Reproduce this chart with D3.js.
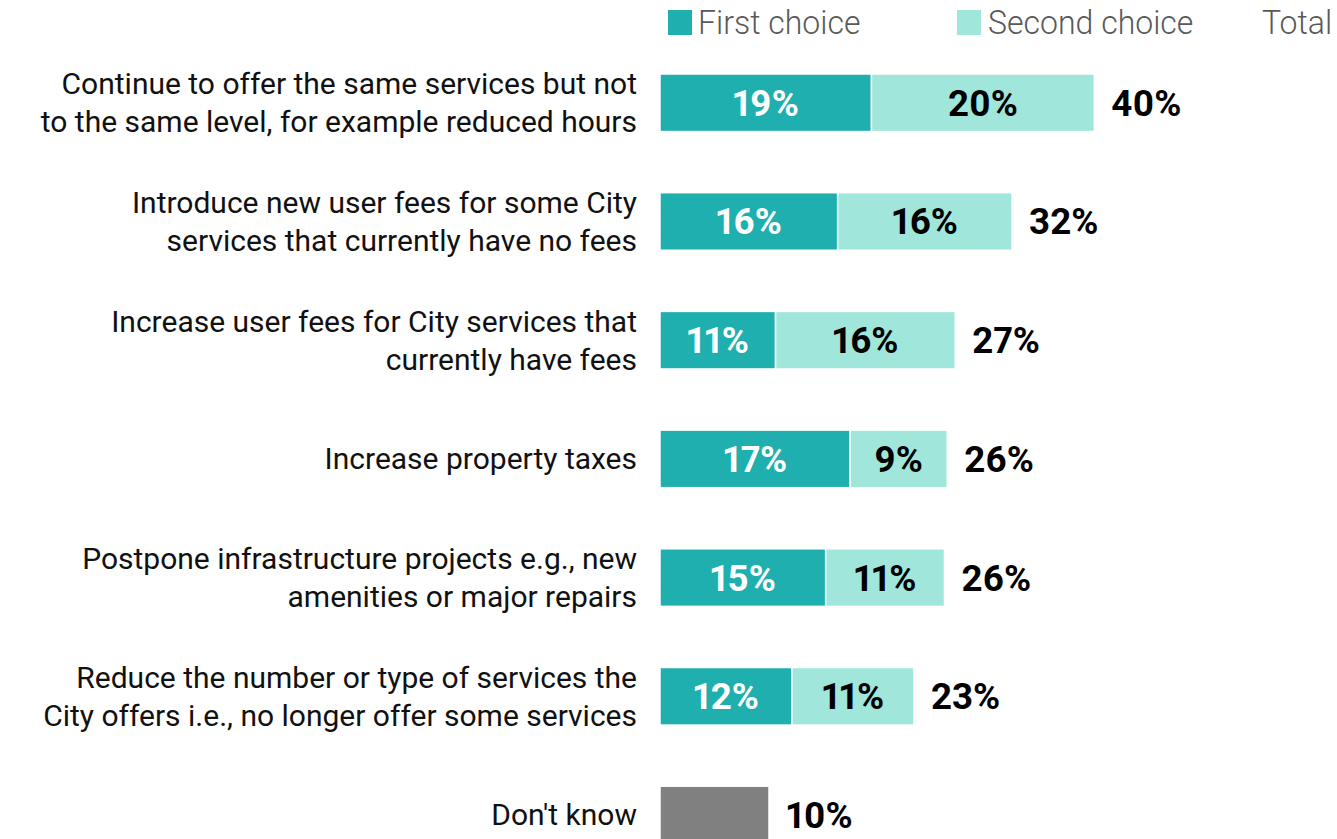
<!DOCTYPE html>
<html>
<head>
<meta charset="utf-8">
<script src="https://cdn.jsdelivr.net/npm/d3@7"></script>
<style>
  html, body { margin: 0; padding: 0; background: #fff; }
  svg { display: block; }
  text { font-family: Roboto, "Noto Sans", sans-serif; }
  .num { font-variant-numeric: proportional-nums; font-feature-settings: "pnum" 1; }
</style>
</head>
<body>
<svg id="chart" width="1337" height="839"></svg>
<script>
// ---- data ----
const categories = [
  ["Continue to offer the same services but not", "to the same level, for example reduced hours"],
  ["Introduce new user fees for some City", "services that currently have no fees"],
  ["Increase user fees for City services that", "currently have fees"],
  ["Increase property taxes"],
  ["Postpone infrastructure projects e.g., new", "amenities or major repairs"],
  ["Reduce the number or type of services the", "City offers i.e., no longer offer some services"],
  ["Don't know"]
];
const firstChoice  = [19.4, 16.3, 10.6, 17.45, 15.2, 12.1, null];
const secondChoice = [20.45, 16.0, 16.49, 8.9, 10.9, 11.2, null];
const dontKnow     = [null, null, null, null, null, null, 10.0];
const legendLabels = ["First choice", "Second choice", "Total"];

// ---- style ----
const colFirst = "#1fafaf", colSecond = "#a1e6da", colDK = "#808080";

const svg = d3.select("#chart");
const x = d3.scaleLinear().domain([0, 40]).range([660, 660 + 40 * 10.9]);
const step = 118.7;
const y = d3.scaleBand().domain(d3.range(categories.length))
  .range([74, 74 + (categories.length - 0.515) * step]).paddingInner(0.515).paddingOuter(0);

const rows = categories.map((c, i) => ({
  i, lines: c, f: firstChoice[i], s: secondChoice[i], d: dontKnow[i],
  total: (firstChoice[i] || 0) + (secondChoice[i] || 0) + (dontKnow[i] || 0)
}));

function ctext(sel, px, py, anchor, sx) {
  return sel.attr("x", 0).attr("y", 0).attr("text-anchor", anchor)
    .attr("transform", `translate(${px},${py}) scale(${sx},1)`);
}

const numScale = 1.02;

// bars
const g = svg.append("g");
rows.forEach(r => {
  const yb = y(r.i), h = y.bandwidth(), cy = yb + h / 2;
  const segs = [];
  if (r.f != null) segs.push({ x0: 0, x1: r.f, c: colFirst, t: "#fff", v: r.f });
  if (r.s != null) segs.push({ x0: r.f, x1: r.f + r.s, c: colSecond, t: "#000", v: r.s });
  if (r.d != null) segs.push({ x0: 0, x1: r.d, c: colDK, t: null, v: r.d });
  segs.forEach(s => {
    g.append("rect").attr("x", x(s.x0)).attr("y", yb).attr("width", x(s.x1) - x(s.x0)).attr("height", h)
      .attr("fill", s.c).attr("stroke", "#fff").attr("stroke-width", 1.5);
    if (s.t) {
      ctext(g.append("text").attr("class", "num"), (x(s.x0) + x(s.x1)) / 2, cy + 13, "middle", numScale)
        .attr("font-size", 36).attr("font-weight", 700).attr("fill", s.t)
        .text(Math.round(s.v) + "%");
    }
  });
  ctext(g.append("text").attr("class", "num"), x(r.total) + 17, cy + 13, "start", numScale)
    .attr("font-size", 36).attr("font-weight", 700).attr("fill", "#000")
    .text(Math.round(r.total) + "%");
  // category label
  const n = r.lines.length, lh = 38;
  r.lines.forEach((ln, k) => {
    ctext(g.append("text"), 637, cy + 10.5 + (k - (n - 1) / 2) * lh, "end", 1)
      .attr("font-size", 30).attr("fill", "#111").text(ln);
  });
});

// legend
const lg = svg.append("g");
const legendItems = [
  { label: legendLabels[0], c: colFirst, sx: 668, tx: 698 },
  { label: legendLabels[1], c: colSecond, sx: 957, tx: 988 },
  { label: legendLabels[2], c: null, sx: null, tx: 1262 }
];
legendItems.forEach(it => {
  if (it.c) lg.append("rect").attr("x", it.sx).attr("y", 10).attr("width", 24).attr("height", 25).attr("fill", it.c);
  ctext(lg.append("text"), it.tx, 34, "start", 0.97)
    .attr("font-size", 33).attr("font-weight", 300).attr("fill", "#595959").text(it.label);
});
</script>
</body>
</html>
